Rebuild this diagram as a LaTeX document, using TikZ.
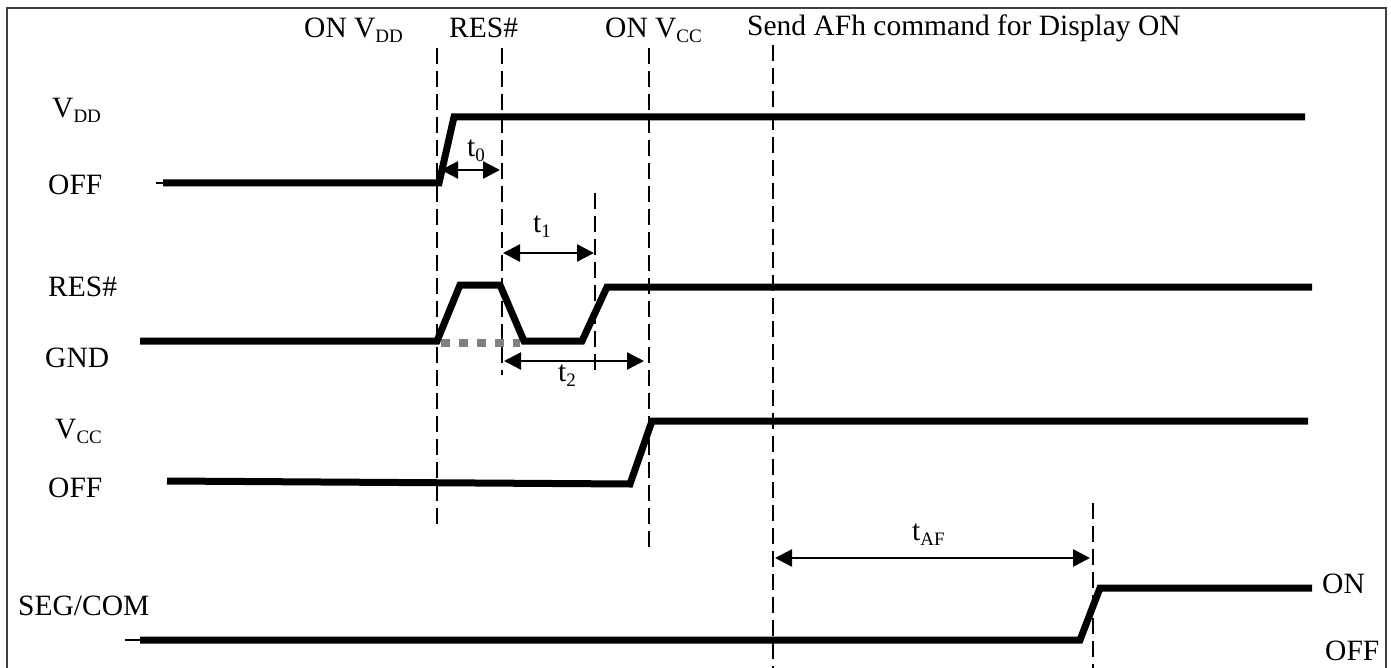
\documentclass[tikz,border=0pt]{standalone}
\usepackage{fontspec}
\setmainfont{Liberation Serif}
\usetikzlibrary{arrows.meta}
\newcommand\mysub[1]{\raisebox{-5pt}{\fontsize{19}{19}\selectfont #1}}
\begin{document}
\begin{tikzpicture}[x=1pt,y=-1pt,
  wave/.style={line width=7pt, line join=miter},
  stub/.style={line width=2pt},
  guide/.style={line width=2pt, dash pattern=on 16pt off 7pt},
  dim/.style={line width=2.5pt, {Triangle[length=17pt,width=17pt]}-{Triangle[length=17pt,width=17pt]}},
  txt/.style={font=\fontsize{29.5}{32}\selectfont, inner sep=0pt, anchor=base west},
  gnddots/.style={line width=8pt, color=black!50, dash pattern=on 9pt off 9pt},
  frame/.style={line width=2pt, color=black!75}]
\useasboundingbox (0,0) rectangle (1391,668);
\draw[frame] (7,680) -- (7,8) -- (1386,8) -- (1386,680);

% guide lines
\coordinate (g1a) at (437,48);  \coordinate (g1b) at (437,530);
\coordinate (g2a) at (502,48);  \coordinate (g2b) at (502,375);
\coordinate (g3a) at (595,193); \coordinate (g3b) at (595,375);
\coordinate (g4a) at (649,48);  \coordinate (g4b) at (649,550);
\coordinate (g5a) at (773,45);  \coordinate (g5b) at (773,670);
\coordinate (g6a) at (1093,503);\coordinate (g6b) at (1093,670);
\draw[guide] (g1a) -- (g1b);
\draw[guide] (g2a) -- (g2b);
\draw[guide] (g3a) -- (g3b);
\draw[guide] (g4a) -- (g4b);
\draw[guide] (g5a) -- (g5b);
\draw[guide] (g6a) -- (g6b);

% top labels
\node[txt] (lvdd) at (304,38) {ON V\mysub{DD}};
\node[txt] (lres) at (449,38) {RES\#};
\node[txt] (lvcc) at (605,38) {ON V\mysub{CC}};
\node[txt] (laf) at (747,36) {Send AFh command for Display ON};

% left labels
\node[txt] (nvdd) at (52,118) {V\mysub{DD}};
\node[txt] (noff1) at (48,195) {OFF};
\node[txt] (nres) at (48,296) {RES\#};
\node[txt] (ngnd) at (45,367) {GND};
\node[txt] (nvcc) at (55,438) {V\mysub{CC}};
\node[txt] (noff2) at (48,497) {OFF};
\node[txt] (nseg) at (18,615) {SEG/COM};
\node[txt] (non) at (1322,593) {ON};
\node[txt] (noff3) at (1325,660) {OFF};

% VDD
\draw[stub] (156,183) -- (164,183);
\draw[wave] (163,183) -- (439,183) -- (454,117) -- (1305,117);
% RES#
\draw[gnddots] (441,343) -- (520,343);
\draw[wave] (140,341) -- (437,341) -- (460,285) -- (500,285) -- (524,341) -- (582,341) -- (607,287) -- (1312,287);
% VCC
\draw[wave] (167,481) -- (630,484) -- (652,421) -- (1308,421);
% SEG/COM
\draw[stub] (125,640) -- (141,640);
\draw[wave] (140,640) -- (1080,640) -- (1100,588) -- (1312,588);

% dimension arrows
\coordinate (a0l) at (441,170); \coordinate (a0r) at (500,170);
\coordinate (a1l) at (503,253); \coordinate (a1r) at (594,253);
\coordinate (a2l) at (504,361); \coordinate (a2r) at (644,361);
\coordinate (a3l) at (775,558); \coordinate (a3r) at (1090,558);
\draw[dim] (a0l) -- (a0r);
\draw[dim] (a1l) -- (a1r);
\draw[dim] (a2l) -- (a2r);
\draw[dim] (a3l) -- (a3r);
\node[txt] (t0) at (467,157) {t\mysub{0}};
\node[txt] (t1) at (533,233) {t\mysub{1}};
\node[txt] (t2) at (558,381) {t\mysub{2}};
\node[txt] (taf) at (912,540) {t\mysub{AF}};
\end{tikzpicture}
\end{document}
